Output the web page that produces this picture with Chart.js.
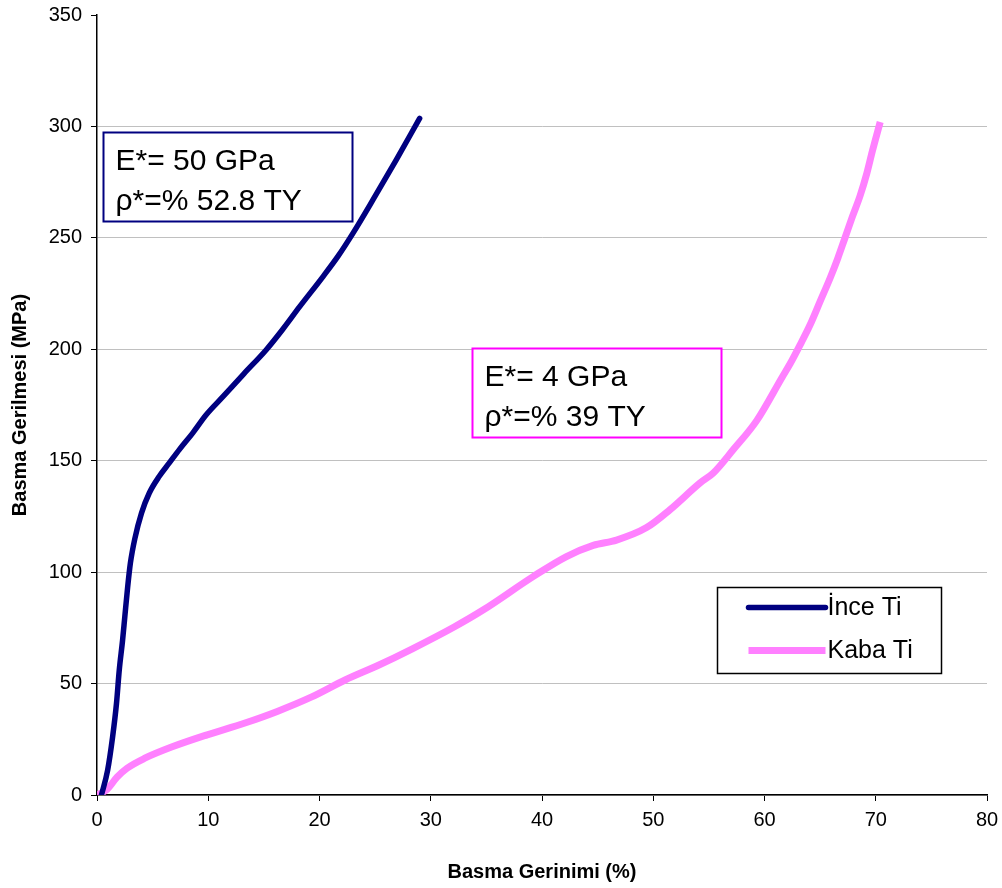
<!DOCTYPE html>
<html>
<head>
<meta charset="utf-8">
<script src="https://cdn.jsdelivr.net/npm/chart.js@4"></script>
<style>
    html, body { margin: 0; padding: 0; background: #ffffff; }
    #wrap { width: 1002px; height: 888px; }
</style>
</head>
<body>
<div id="wrap"><canvas id="stressChart" width="1002" height="888"></canvas></div>
<script>
// Basma gerilme-gerinim egrileri

const seriesNames = ["İnce Ti", "Kaba Ti"];

const inceX = [0.4, 0.95, 1.4, 1.75, 2.0, 2.3, 2.5, 2.75, 3.0, 3.4, 4.0, 4.7, 5.6, 6.5, 7.4, 8.6, 9.8, 11.3, 13.2, 15.2, 16.7, 18.2, 20.3, 21.7, 23, 24.8, 26.9, 29];
const inceY = [0, 11, 26, 41, 56, 69.5, 80, 93, 104, 115, 126.5, 135.5, 143, 149, 155, 162.4, 170.5, 178.6, 189, 199.7, 209, 219, 232.5, 242, 252, 267, 285, 303.6];

const kabaX = [0, 0.9, 1.8, 2.7, 4.3, 6.7, 9.9, 13.3, 16.2, 19.3, 22.3, 25.2, 28.3, 32.1, 34.7, 39.2, 42.2, 44.6, 46.7, 49.4, 51.5, 54.2, 55.4, 57.2, 59.3, 61.6, 62.3, 63.2, 64.1, 65, 65.9, 66.6, 67.2, 67.9, 68.6, 69.2, 69.7, 70.4];
const kabaY = [0, 2.5, 8, 12, 16.5, 21.5, 27, 32.3, 37.5, 44, 51.6, 58, 65.5, 75.4, 83, 98, 107, 112, 114.4, 120, 128, 140, 144.5, 155, 168, 187.6, 193.5, 202, 211, 221.5, 232, 241, 249.5, 259.5, 269, 279, 289, 302];

const xTicks = [0, 10, 20, 30, 40, 50, 60, 70, 80];
const yTicks = [0, 50, 100, 150, 200, 250, 300, 350];

const notes = [
    { lines: ["E*= 50 GPa", "ρ*=% 52.8 TY"], x: 0.5, y: 297.5, color: "#000080" },
    { lines: ["E*= 4 GPa", "ρ*=% 39 TY"], x: 33.7, y: 200.6, color: "#ff00ff" }
];

const FONT = "'Liberation Sans', Arial, sans-serif";

function toPoints(xs, ys) {
    return xs.map((x, i) => ({ x: x, y: ys[i] }));
}

// annotation boxes and the legend inside the plot
const overlayPlugin = {
    id: "overlay",
    afterDraw(chart) {
        const ctx = chart.ctx;
        const xs = chart.scales.x;
        const ys = chart.scales.y;

        ctx.save();
        ctx.font = "30px " + FONT;
        ctx.textBaseline = "alphabetic";
        ctx.textAlign = "left";

        notes.forEach((n) => {
            const left = Math.round(xs.getPixelForValue(n.x)) + 0.5;
            const top = Math.round(ys.getPixelForValue(n.y)) + 0.5;
            ctx.strokeStyle = n.color;
            ctx.lineWidth = 2;
            ctx.fillStyle = "#ffffff";
            ctx.fillRect(left, top, 249, 89);
            ctx.strokeRect(left, top, 249, 89);
            ctx.fillStyle = "#000000";
            ctx.fillText(n.lines[0], left + 12, top + 37);
            ctx.fillText(n.lines[1], left + 12, top + 77);
        });

        // legend
        const lx = Math.round(xs.getPixelForValue(55.7)) + 0.5;
        const ly = Math.round(ys.getPixelForValue(93.5)) + 0.5;
        ctx.fillStyle = "#ffffff";
        ctx.fillRect(lx, ly, 224, 86);
        ctx.strokeStyle = "#000000";
        ctx.lineWidth = 1.5;
        ctx.strokeRect(lx, ly, 224, 86);

        ctx.font = "25px " + FONT;
        ctx.textBaseline = "middle";
        chart.data.datasets.forEach((ds, i) => {
            const yy = ly + 20 + i * 43;
            ctx.strokeStyle = ds.borderColor;
            ctx.lineWidth = ds.borderWidth;
            ctx.lineCap = i === 0 ? "round" : "butt";
            ctx.beginPath();
            ctx.moveTo(lx + 31, yy);
            ctx.lineTo(lx + 108, yy);
            ctx.stroke();
            ctx.fillStyle = "#000000";
            ctx.fillText(ds.label, lx + 110, yy + 1);
        });
        ctx.restore();
    }
};

const bgPlugin = {
    id: "bg",
    beforeDraw(chart) {
        const ctx = chart.ctx;
        ctx.save();
        ctx.fillStyle = "#ffffff";
        ctx.fillRect(0, 0, chart.width, chart.height);
        ctx.restore();
    }
};

new Chart(document.getElementById("stressChart"), {
    type: "scatter",
    data: {
        datasets: [
            {
                label: seriesNames[0],
                data: toPoints(inceX, inceY),
                showLine: true,
                borderColor: "#000080",
                backgroundColor: "#000080",
                borderWidth: 5.5,
                pointRadius: 0,
                cubicInterpolationMode: "monotone",
                borderCapStyle: "round"
            },
            {
                label: seriesNames[1],
                data: toPoints(kabaX, kabaY),
                showLine: true,
                borderColor: "#ff80ff",
                backgroundColor: "#ff80ff",
                borderWidth: 7,
                pointRadius: 0,
                cubicInterpolationMode: "monotone"
            }
        ]
    },
    options: {
        responsive: false,
        animation: false,
        layout: { padding: { left: 0, right: 15, top: 15, bottom: 0 } },
        plugins: {
            legend: { display: false },
            tooltip: { enabled: false }
        },
        scales: {
            x: {
                type: "linear",
                min: 0,
                max: 80,
                afterBuildTicks: (s) => { s.ticks = xTicks.map(v => ({ value: v })); },
                afterFit: (s) => {
                    s.height = 93;
                    s.paddingLeft = 0;
                    s.paddingRight = 0;
                },
                grid: {
                    drawOnChartArea: false,
                    tickLength: 6,
                    tickColor: "#000000"
                },
                border: { color: "#000000", width: 1.5 },
                ticks: {
                    color: "#000000",
                    padding: 7,
                    maxRotation: 0,
                    font: { family: FONT, size: 20 }
                },
                title: {
                    display: true,
                    text: "Basma Gerinimi (%)",
                    color: "#000000",
                    padding: { top: 0, bottom: 4 },
                    font: { family: FONT, size: 20, weight: "bold" }
                }
            },
            y: {
                type: "linear",
                min: 0,
                max: 350,
                afterBuildTicks: (s) => { s.ticks = yTicks.map(v => ({ value: v })); },
                afterFit: (s) => {
                    s.width = 97;
                    s.paddingTop = 0;
                    s.paddingBottom = 0;
                },
                grid: {
                    color: (c) => (c.tick && c.tick.value === 350) ? "rgba(0,0,0,0)" : "#c0c0c0",
                    lineWidth: 1,
                    tickLength: 6,
                    tickColor: "#000000"
                },
                border: { color: "#000000", width: 1.5 },
                ticks: {
                    color: "#000000",
                    padding: 9,
                    font: { family: FONT, size: 20 }
                },
                title: {
                    display: true,
                    text: "Basma Gerilmesi (MPa)",
                    color: "#000000",
                    padding: { top: 8, bottom: 0 },
                    font: { family: FONT, size: 20, weight: "bold" }
                }
            }
        }
    },
    plugins: [bgPlugin, overlayPlugin]
});
</script>
</body>
</html>
